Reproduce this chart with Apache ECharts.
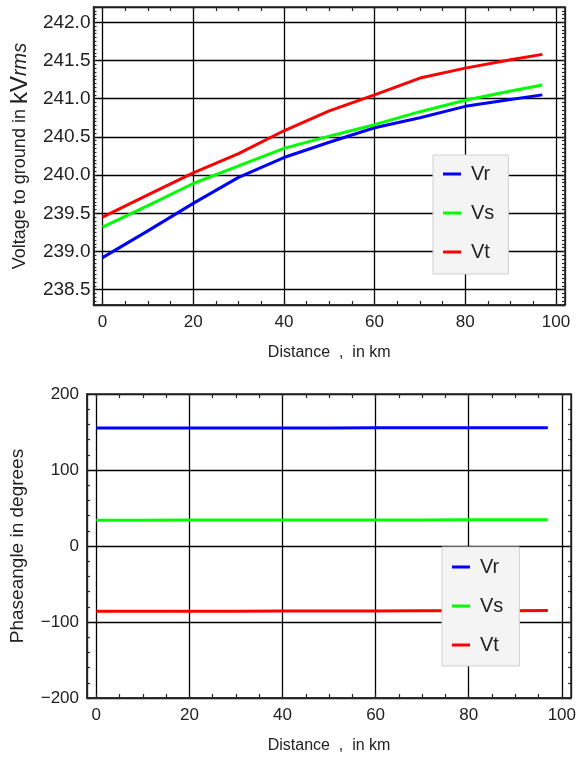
<!DOCTYPE html>
<html>
<head>
<meta charset="utf-8">
<script src="https://cdn.jsdelivr.net/npm/echarts@6/dist/echarts.min.js"></script>
<style>html,body{margin:0;padding:0;background:#fff}#c{width:579px;height:759px}</style>
</head>
<body>
<div id="c"></div>
<script>
// ---- data ----
const distanceKm = [0, 10, 20, 30, 40, 50, 60, 70, 80, 90, 97];
const vrVoltage = [238.92, 239.27, 239.63, 239.97, 240.23, 240.43, 240.62, 240.75, 240.90, 240.99, 241.05];
const vsVoltage = [239.32, 239.60, 239.89, 240.12, 240.35, 240.51, 240.66, 240.83, 240.98, 241.10, 241.18];
const vtVoltage = [239.45, 239.74, 240.03, 240.28, 240.58, 240.84, 241.05, 241.27, 241.40, 241.51, 241.58];
const vrPhase = [155.2, 155.2, 155.3, 155.3, 155.4, 155.4, 155.5, 155.5, 155.6, 155.6, 155.7];
const vsPhase = [34.0, 34.0, 34.1, 34.1, 34.2, 34.2, 34.3, 34.3, 34.4, 34.4, 34.5];
const vtPhase = [-86.0, -85.9, -85.8, -85.7, -85.6, -85.5, -85.4, -85.3, -85.2, -85.1, -85.0];
const seriesNames = ['Vr', 'Vs', 'Vt'];
const seriesColors = ['#0000ff', '#00ff00', '#ff0000'];
const xTickLabels = [0, 20, 40, 60, 80, 100];
const voltTickLabels = [238.5, 239.0, 239.5, 240.0, 240.5, 241.0, 241.5, 242.0];
const phaseTickLabels = [-200, -100, 0, 100, 200];

// minor tick positions
const xMinorTicks = [];
for (let v = 0; v <= 100; v += 5) xMinorTicks.push(v);
const voltMinorTicks = [];
for (let i = 0; i <= 78; i++) voltMinorTicks.push(+(238.3 + i * 0.05).toFixed(2));
const phaseMinorTicks = [];
for (let v = -200; v <= 200; v += 20) phaseMinorTicks.push(v);

const FONT = "'Liberation Sans', Arial, sans-serif";
const frameColor = '#262626';
const textColor = '#222';
const gridLine = { show: true, lineStyle: { color: '#000', width: 1.3 } };
const frameLine = { show: true, onZero: false, lineStyle: { color: frameColor, width: 1.5 } };

// kind: 'main' (labels + grid lines), 'ticks' (frame side with small inward ticks)
function xAxis(gridIndex, position, kind) {
  const main = kind === 'main';
  return {
    type: 'value', gridIndex, position, min: -2, max: 102, splitNumber: 5,
    axisLine: frameLine,
    axisTick: main ? { show: false } : { show: true, inside: true, length: 4, customValues: xMinorTicks, lineStyle: { color: frameColor, width: 1.2 } },
    axisLabel: main ? { show: true, customValues: xTickLabels, margin: 9, fontSize: 17, color: textColor, fontFamily: FONT } : { show: false },
    splitLine: main ? gridLine : { show: false },
    name: main ? 'Distance  ,  in km' : '',
    nameLocation: 'middle', nameGap: 40,
    nameTextStyle: { fontSize: 16, color: textColor, fontFamily: FONT }
  };
}

function yAxisVolt(position, kind) {
  const main = kind === 'main';
  return {
    type: 'value', gridIndex: 0, position, min: 238.3, max: 242.2, splitNumber: 8,
    axisLine: frameLine,
    axisTick: main ? { show: false } : { show: true, inside: true, length: 3, customValues: voltMinorTicks, lineStyle: { color: frameColor, width: 1.2 } },
    axisLabel: main ? { show: true, customValues: voltTickLabels, margin: 3, fontSize: 19, color: textColor, fontFamily: FONT,
      formatter: v => v.toFixed(1) } : { show: false },
    splitLine: main ? gridLine : { show: false },
    name: main ? '{a|Voltage to ground in }{b|kV}{c|rms}' : '',
    nameLocation: 'middle', nameGap: 60, nameRotate: 90,
    nameTextStyle: { color: textColor, fontFamily: FONT,
      rich: { a: { fontSize: 18, fontFamily: FONT, color: textColor },
              b: { fontSize: 24, fontFamily: FONT, color: textColor },
              c: { fontSize: 20, fontStyle: 'italic', fontFamily: FONT, color: textColor } } }
  };
}

function yAxisPhase(position, kind) {
  const main = kind === 'main';
  return {
    type: 'value', gridIndex: 1, position, min: -200, max: 200, interval: 100,
    axisLine: frameLine,
    axisTick: main ? { show: false } : { show: true, inside: true, length: 3, customValues: phaseMinorTicks, lineStyle: { color: frameColor, width: 1.2 } },
    axisLabel: main ? { show: true, customValues: phaseTickLabels, margin: 8, fontSize: 17, color: textColor, fontFamily: FONT,
      formatter: v => String(v).replace('-', '\u2212') } : { show: false },
    splitLine: main ? gridLine : { show: false },
    name: main ? 'Phaseangle in degrees' : '',
    nameLocation: 'middle', nameGap: 60, nameRotate: 90,
    nameTextStyle: { fontSize: 19, color: textColor, fontFamily: FONT }
  };
}

function lineSeries(name, color, xi, yi, values) {
  return {
    type: 'line', name, xAxisIndex: xi, yAxisIndex: yi,
    data: distanceKm.map((d, i) => [d, values[i]]),
    showSymbol: false, symbol: 'none', smooth: false,
    lineStyle: { color, width: 3 }, itemStyle: { color },
    emphasis: { disabled: true }, z: 3
  };
}

function legend(left, top, padding) {
  return {
    orient: 'vertical', left, top, padding, itemGap: 19, itemWidth: 18, itemHeight: 3,
    icon: 'rect', data: seriesNames,
    textStyle: { fontSize: 20, color: textColor, fontFamily: FONT, padding: [0, 0, 0, 5] },
    backgroundColor: '#f4f4f4', borderColor: '#cfcfcf', borderWidth: 1, borderRadius: 0,
    selectedMode: false
  };
}

const chart = echarts.init(document.getElementById('c'), null, { renderer: 'canvas' });
chart.setOption({
  animation: false,
  backgroundColor: '#fff',
  grid: [
    { left: 89, top: 7, width: 476, height: 298 },
    { left: 87, top: 394, width: 490, height: 304 }
  ],
  xAxis: [
    xAxis(0, 'bottom', 'main'), xAxis(0, 'top', 'ticks'), xAxis(0, 'bottom', 'ticks'),
    xAxis(1, 'bottom', 'main'), xAxis(1, 'top', 'ticks'), xAxis(1, 'bottom', 'ticks')
  ],
  yAxis: [
    yAxisVolt('left', 'main'), yAxisVolt('right', 'ticks'), yAxisVolt('left', 'ticks'),
    yAxisPhase('left', 'main'), yAxisPhase('right', 'ticks'), yAxisPhase('left', 'ticks')
  ],
  legend: [legend(433, 155, [9, 14, 12, 10]), legend(442, 547, [10, 16, 11, 10])],
  series: [
    lineSeries('Vr', seriesColors[0], 0, 0, vrVoltage),
    lineSeries('Vs', seriesColors[1], 0, 0, vsVoltage),
    lineSeries('Vt', seriesColors[2], 0, 0, vtVoltage),
    lineSeries('Vr', seriesColors[0], 3, 3, vrPhase),
    lineSeries('Vs', seriesColors[1], 3, 3, vsPhase),
    lineSeries('Vt', seriesColors[2], 3, 3, vtPhase)
  ]
});
</script>
</body>
</html>
